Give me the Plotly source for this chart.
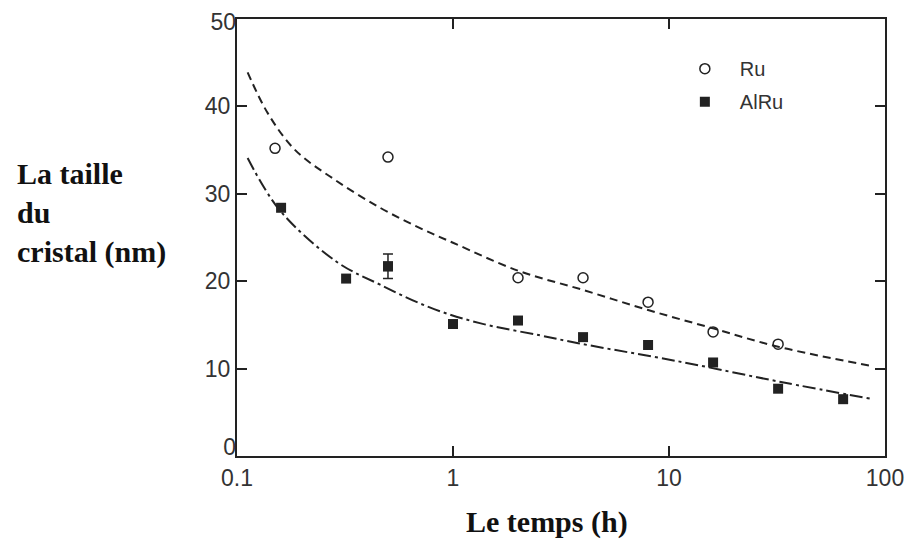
import plotly.graph_objects as go

# measured points (time in h, crystal size in nm)
ru_t = [0.15, 0.5, 2, 4, 8, 16, 32]
ru_size = [35.2, 34.2, 20.4, 20.4, 17.6, 14.2, 12.8]

alru_t = [0.16, 0.32, 0.5, 1, 2, 4, 8, 16, 32, 64]
alru_size = [28.4, 20.3, 21.7, 15.1, 15.5, 13.6, 12.7, 10.7, 7.7, 6.5]
alru_err_t = [0.5]
alru_err_size = [21.7]
alru_err = [1.4]

# fitted curves
ru_fit_t = [0.112, 0.139, 0.186, 0.284, 0.46, 0.70, 1, 2, 4, 8, 16, 32, 87]
ru_fit_size = [43.9, 39.2, 35.0, 31.6, 28.4, 26.1, 24.4, 21.2, 19.0, 16.7, 14.6, 12.5, 10.3]

alru_fit_t = [0.112, 0.158, 0.29, 0.46, 0.78, 1.33, 2.53, 3.8, 11.2, 32.5, 88]
alru_fit_size = [34.1, 28.1, 22.2, 19.6, 17.0, 15.2, 13.8, 12.9, 10.8, 8.5, 6.5]

x_ticks = [0.1, 1, 10, 100]
x_ticktext = ["0.1", "1", "10", "100"]
y_ticks = [0, 10, 20, 30, 40, 50]

ink = "#222222"

fig = go.Figure()

fig.add_trace(
    go.Scatter(
        x=ru_fit_t, y=ru_fit_size, mode="lines", line_shape="spline",
        line=dict(color=ink, width=2, dash="8px,5px"), showlegend=False,
    )
)
fig.add_trace(
    go.Scatter(
        x=alru_fit_t, y=alru_fit_size, mode="lines", line_shape="spline",
        line=dict(color=ink, width=2, dash="13px,4px,3px,4px"), showlegend=False,
    )
)
fig.add_trace(
    go.Scatter(
        x=alru_err_t, y=alru_err_size, mode="markers",
        marker=dict(symbol="square", size=10, color=ink),
        error_y=dict(type="data", array=alru_err, color=ink, thickness=1.5, width=5),
        showlegend=False,
    )
)
fig.add_trace(
    go.Scatter(
        x=ru_t, y=ru_size, mode="markers", name="Ru", legendgroup="ru",
        marker=dict(symbol="circle-open", size=10, color=ink, line=dict(width=1.5)),
    )
)
fig.add_trace(
    go.Scatter(
        x=alru_t, y=alru_size, mode="markers", name="AlRu", legendgroup="alru",
        marker=dict(symbol="square", size=10, color=ink),
    )
)

axis_font = dict(family="Liberation Sans, Arial, sans-serif", size=23, color="#333333")

fig.update_xaxes(
    type="log", range=[-1, 2], tickvals=x_ticks, ticktext=x_ticktext,
    ticks="inside", ticklen=10, tickwidth=1.5, tickcolor=ink,
    showline=True, linecolor=ink, linewidth=2, mirror="ticks",
    showgrid=False, zeroline=False, tickfont=axis_font, automargin=False,
    ticklabeloverflow="allow",
)

label_axis = dict(
    range=[0, 50], overlaying="y", side="left", ticks="", showline=False,
    showgrid=False, zeroline=False, tickfont=axis_font, automargin=False,
    ticklabeloverflow="allow",
)
fig.update_layout(
    # main axis: lines and ticks, labels for 10..40
    yaxis=dict(
        range=[0, 50], tickvals=y_ticks[1:-1],
        ticks="inside", ticklen=10, tickwidth=1.5, tickcolor=ink,
        showline=True, linecolor=ink, linewidth=2, mirror="ticks",
        showgrid=False, zeroline=False, tickfont=axis_font, automargin=False,
        ticklabeloverflow="allow",
    ),
    # "0" sits a little higher so it clears "0.1"
    yaxis2=dict(label_axis, tickvals=y_ticks[:1], ticklabelshift=-9),
    # "50" sits a touch lower, inside the page
    yaxis3=dict(label_axis, tickvals=y_ticks[-1:], ticklabelshift=3),
)
# small tick marks at 0 and 50 on the main axis are drawn by mirror/axis line;
# add inside ticks there via the helper axes
fig.update_layout(
    yaxis2_ticks="inside", yaxis2_ticklen=10, yaxis2_tickwidth=1.5, yaxis2_tickcolor=ink,
    yaxis3_ticks="inside", yaxis3_ticklen=10, yaxis3_tickwidth=1.5, yaxis3_tickcolor=ink,
)
# invisible helper traces so the label axes get drawn
for ax in ["y2", "y3"]:
    fig.add_trace(
        go.Scatter(x=[None], y=[None], yaxis=ax, showlegend=False, hoverinfo="skip")
    )

title_font = dict(family="Liberation Serif, Times New Roman, serif", size=30, color="#111111")

# the page has an 8px body margin, so the figure is drawn 8px smaller
fig.update_layout(
    width=911, height=536,
    margin=dict(l=229, r=34, t=11, b=88),
    paper_bgcolor="white", plot_bgcolor="white",
    legend=dict(
        x=0.668, y=0.931, xanchor="left", yanchor="top",
        font=dict(family="Liberation Sans, Arial, sans-serif", size=20, color="#333333"),
        bgcolor="rgba(0,0,0,0)", tracegroupgap=4, traceorder="grouped",
        itemwidth=60,
    ),
    annotations=[
        dict(
            text="<b>La taille<br>du<br>cristal (nm)</b>", xref="paper", yref="paper",
            x=-0.3426, y=0.556, xanchor="left", yanchor="middle", align="left",
            showarrow=False, font=title_font,
        ),
        dict(
            text="<b>Le temps (h)</b>", xref="paper", yref="paper",
            x=0.478, y=-0.151, xanchor="center", yanchor="middle",
            showarrow=False, font=title_font,
        ),
    ],
)

fig.write_html("out.html")
